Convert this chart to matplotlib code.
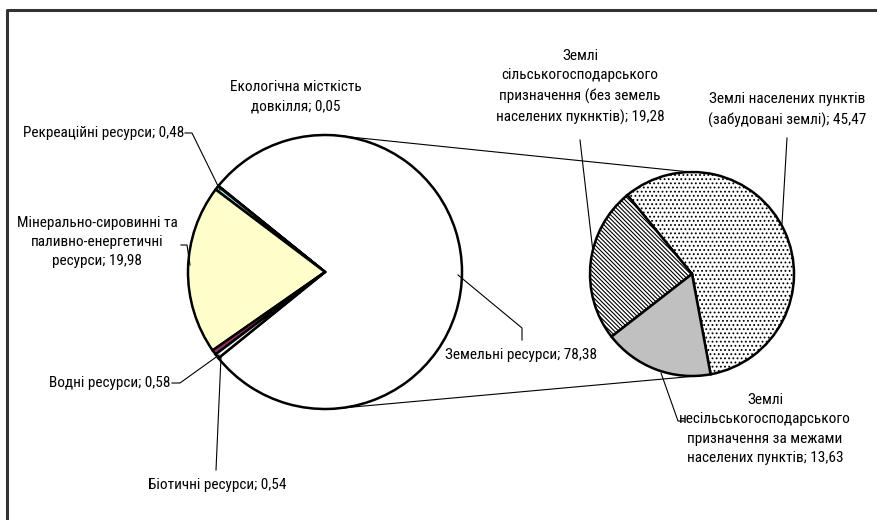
import numpy as np
import matplotlib
matplotlib.use("Agg")
import matplotlib.pyplot as plt

# Structure of natural resource potential, %
main_labels = ["Земельні ресурси", "Екологічна місткість\nдовкілля",
               "Рекреаційні ресурси", "Мінерально-сировинні та\nпаливно-енергетичні\nресурси",
               "Водні ресурси", "Біотичні ресурси"]
main_values = [78.38, 0.05, 0.48, 19.98, 0.58, 0.54]
main_colors = ["#FFFFFF", "#FFFFFF", "#A6E6EE", "#FFFFCC", "#993366", "#FFFFFF"]

# Breakdown of land resources
sub_labels = ["Землі населених пунктів\n(забудовані землі)",
              "Землі\nсільськогосподарського\nпризначення (без земель\nнаселених пукнктів)",
              "Землі\nнесільськогосподарського\nпризначення за межами\nнаселених пунктів"]
sub_values = [45.47, 19.28, 13.63]
sub_colors = ["#FFFFFF", "#FFFFFF", "#C0C0C0"]
sub_hatches = ["....", "\\" * 8, None]

W, H = 878, 520
FONT = ["Roboto Condensed", "PT Sans Narrow", "IBM Plex Sans Condensed",
        "DejaVu Sans Condensed", "Liberation Sans", "DejaVu Sans"]
FS = 11

plt.rcParams["hatch.linewidth"] = 0.8
plt.rcParams["hatch.color"] = "#333333"
fig = plt.figure(figsize=(W / 100, H / 100), dpi=100)
ax = fig.add_axes([0, 0, 1, 1])


def P(x, y):
    """top-left pixel origin -> axis coords"""
    return x, H - y


def fmt(v):
    return f"{v:.2f}".replace(".", ",")


# main pie
mc = P(325, 272)
mr = 137
start = -main_values[0] / sum(main_values) * 360 / 2
mw, _ = ax.pie(main_values, colors=main_colors, startangle=start, counterclock=True,
               center=mc, radius=mr, frame=True,
               wedgeprops=dict(edgecolor="black", linewidth=1.8))

# secondary pie
sc = P(692, 274)
sr = 102
sw, _ = ax.pie(sub_values, colors=sub_colors, startangle=-79.5, counterclock=True,
               center=sc, radius=sr, frame=True,
               wedgeprops=dict(edgecolor="black", linewidth=1.8))
for w, h in zip(sw, sub_hatches):
    if h:
        w.set_hatch(h)


def on_circle(c, r, deg):
    t = np.deg2rad(deg)
    return c[0] + r * np.cos(t), c[1] + r * np.sin(t)


# connector lines between the pies
for a_main, a_sub in [(86.6, 91.0), (-83.7, -85.5)]:
    p1 = on_circle(mc, mr, a_main)
    p2 = on_circle(sc, sr, a_sub)
    ax.plot([p1[0], p2[0]], [p1[1], p2[1]], color="black", lw=0.8, zorder=0)


def label(text, xy, ha="center"):
    ax.text(*P(*xy), text, ha=ha, va="center", fontsize=FS, family=FONT,
            linespacing=1.5, color="black")


def leader(pts):
    xs, ys = zip(*[P(*p) for p in pts])
    ax.plot(xs, ys, color="black", lw=0.8, zorder=3)


label(f"{main_labels[1]}; {fmt(main_values[1])}", (296, 97))
label(f"{main_labels[2]}; {fmt(main_values[2])}", (184, 133), ha="right")
leader([(185, 133), (192, 133), (220, 190)])
label(f"{main_labels[3]}; {fmt(main_values[3])}", (97, 242))
leader([(181, 245), (187, 245), (190, 265)])
label(f"{main_labels[4]}; {fmt(main_values[4])}", (171, 383), ha="right")
leader([(172, 383), (180, 383), (219, 355)])
label(f"{main_labels[5]}; {fmt(main_values[5])}", (217, 485))
leader([(216, 470), (221, 357)])
label(f"{main_labels[0]}; {fmt(main_values[0])}", (521, 355))
leader([(458, 275), (522, 328), (522, 340)])

label(f"{sub_labels[1]}; {fmt(sub_values[1])}", (580, 87))
leader([(580, 140), (593, 252)])
label(f"{sub_labels[0]}; {fmt(sub_values[0])}", (787, 110))
leader([(787, 138), (782, 224)])
label(f"{sub_labels[2]}; {fmt(sub_values[2])}", (765, 429))
leader([(661, 373), (678, 421), (684, 421)])

# chart frame (left and top edges visible)
ax.plot([7.5, 7.5, W], [0, H - 9.5, H - 9.5], color="#333333", lw=2.2, zorder=5,
        solid_capstyle="butt")

ax.set_xlim(0, W)
ax.set_ylim(0, H)
ax.set_aspect("auto")
ax.axis("off")
fig.savefig("out.png", dpi=100, facecolor="white")
